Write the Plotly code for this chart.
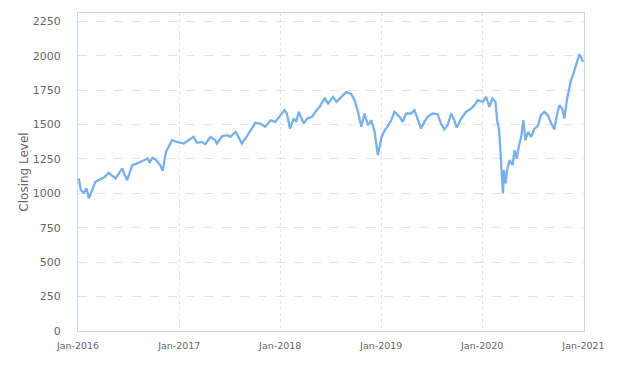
import plotly.graph_objects as go

dates = [
    "2016-01-04", "2016-01-11", "2016-01-22", "2016-02-01", "2016-02-09", "2016-02-22",
    "2016-03-04", "2016-03-16", "2016-04-04", "2016-04-21", "2016-05-16", "2016-06-09",
    "2016-06-15", "2016-06-27", "2016-07-15", "2016-08-02", "2016-08-26", "2016-09-09",
    "2016-09-16", "2016-09-26", "2016-10-07", "2016-10-24", "2016-11-02", "2016-11-14",
    "2016-11-25", "2016-12-06", "2016-12-23",
    "2017-01-17", "2017-02-03", "2017-02-22", "2017-03-06", "2017-03-24", "2017-04-05",
    "2017-04-24", "2017-05-11", "2017-05-17", "2017-06-05", "2017-06-22", "2017-07-05",
    "2017-07-24", "2017-08-03", "2017-08-15", "2017-09-01", "2017-09-20", "2017-10-03",
    "2017-10-20", "2017-11-08", "2017-11-27", "2017-12-14",
    "2018-01-02", "2018-01-16", "2018-01-25", "2018-02-05", "2018-02-19", "2018-02-28",
    "2018-03-09", "2018-03-27", "2018-04-09", "2018-04-26", "2018-05-08", "2018-05-24",
    "2018-06-01", "2018-06-11", "2018-06-23", "2018-07-11", "2018-07-23", "2018-08-10",
    "2018-08-28", "2018-09-15", "2018-09-27", "2018-10-09", "2018-10-21", "2018-11-02",
    "2018-11-14", "2018-11-26", "2018-12-08", "2018-12-20",
    "2019-01-02", "2019-01-14", "2019-01-25", "2019-02-06", "2019-02-18", "2019-03-08",
    "2019-03-20", "2019-04-01", "2019-04-19", "2019-05-01", "2019-05-13", "2019-05-25",
    "2019-06-06", "2019-06-18", "2019-07-06", "2019-07-24", "2019-08-05", "2019-08-17",
    "2019-08-29", "2019-09-11", "2019-09-22", "2019-10-01", "2019-10-17", "2019-11-04",
    "2019-11-22", "2019-12-04", "2019-12-16",
    "2020-01-03", "2020-01-15", "2020-01-27", "2020-02-07", "2020-02-18", "2020-02-24",
    "2020-03-02", "2020-03-06", "2020-03-10", "2020-03-13", "2020-03-16", "2020-03-20",
    "2020-03-26", "2020-04-01", "2020-04-09", "2020-04-20", "2020-04-27", "2020-05-05",
    "2020-05-12", "2020-05-21", "2020-05-29", "2020-06-05", "2020-06-15", "2020-06-26",
    "2020-07-08", "2020-07-20", "2020-07-31", "2020-08-13", "2020-08-25", "2020-09-07",
    "2020-09-18", "2020-09-27", "2020-10-06", "2020-10-16", "2020-10-24", "2020-11-02",
    "2020-11-09", "2020-11-17", "2020-11-26", "2020-12-03", "2020-12-11", "2020-12-17",
    "2020-12-26", "2020-12-30",
]

closing = [
    1108, 1023, 1004, 1036, 963, 1023,
    1084, 1096, 1115, 1149, 1108, 1181,
    1145, 1096, 1205, 1217, 1241, 1253,
    1222, 1260, 1246, 1205, 1163, 1302,
    1343, 1386, 1374,
    1362, 1386, 1410, 1367, 1374, 1357,
    1410, 1386, 1362, 1415, 1423, 1410,
    1447, 1410, 1362, 1410, 1471, 1512,
    1507, 1483, 1531, 1519,
    1568, 1604, 1580, 1471, 1544, 1519,
    1592, 1507, 1544, 1556, 1592, 1630,
    1660, 1689, 1653, 1700, 1664, 1700,
    1737, 1720, 1677, 1592, 1483, 1580,
    1495, 1531, 1447, 1277,
    1410, 1459, 1488, 1531, 1592, 1556,
    1519, 1580, 1580, 1604, 1544, 1471,
    1519, 1556, 1580, 1575, 1507, 1464,
    1495, 1580, 1531, 1478, 1544, 1592,
    1616, 1640, 1677,
    1664, 1700, 1628, 1689, 1664, 1531,
    1459, 1338, 1193, 1072, 999, 1169,
    1072, 1181, 1241, 1205, 1314, 1253,
    1338, 1410, 1531, 1386, 1447, 1410,
    1471, 1488, 1568, 1592, 1568, 1507,
    1464, 1568, 1640, 1616, 1544, 1677,
    1737, 1822, 1870, 1918, 1979, 2010,
    1979, 1955,
]

y_ticks = [0, 250, 500, 750, 1000, 1250, 1500, 1750, 2000, 2250]
x_ticks = ["2016-01-01", "2017-01-01", "2018-01-01", "2019-01-01", "2020-01-01", "2021-01-01"]
x_tick_text = ["Jan-2016", "Jan-2017", "Jan-2018", "Jan-2019", "Jan-2020", "Jan-2021"]

fig = go.Figure()
fig.add_trace(go.Scatter(
    x=dates, y=closing, mode="lines",
    line=dict(color="#78b1ea", width=2.3),
    showlegend=False,
))

fig.update_layout(
    width=624, height=366,
    margin=dict(l=78, r=40, t=13, b=35),
    paper_bgcolor="white", plot_bgcolor="white",
    font=dict(family="DejaVu Sans", color="#666666"),
)
fig.update_xaxes(
    range=["2016-01-01", "2021-01-03"],
    tickvals=x_ticks, ticktext=x_tick_text,
    tickfont=dict(size=9.5, color="#666666"),
    showgrid=True, gridcolor="#e3e3e3", griddash="dot", gridwidth=1,
    showline=True, linecolor="#ccd6eb", linewidth=1, mirror=True,
    ticks="", ticklabelstandoff=6, zeroline=False,
)
fig.update_yaxes(
    range=[0, 2310],
    tickvals=y_ticks,
    tickfont=dict(size=11, color="#666666"),
    showgrid=True, gridcolor="#e3e3e3", griddash="dash", gridwidth=1,
    showline=True, linecolor="#ccd6eb", linewidth=1, mirror=True,
    ticks="", ticklabelstandoff=14, zeroline=False,
    title=dict(text="Closing Level", font=dict(size=12, color="#666666"), standoff=1),
)

fig.write_html("out.html")
